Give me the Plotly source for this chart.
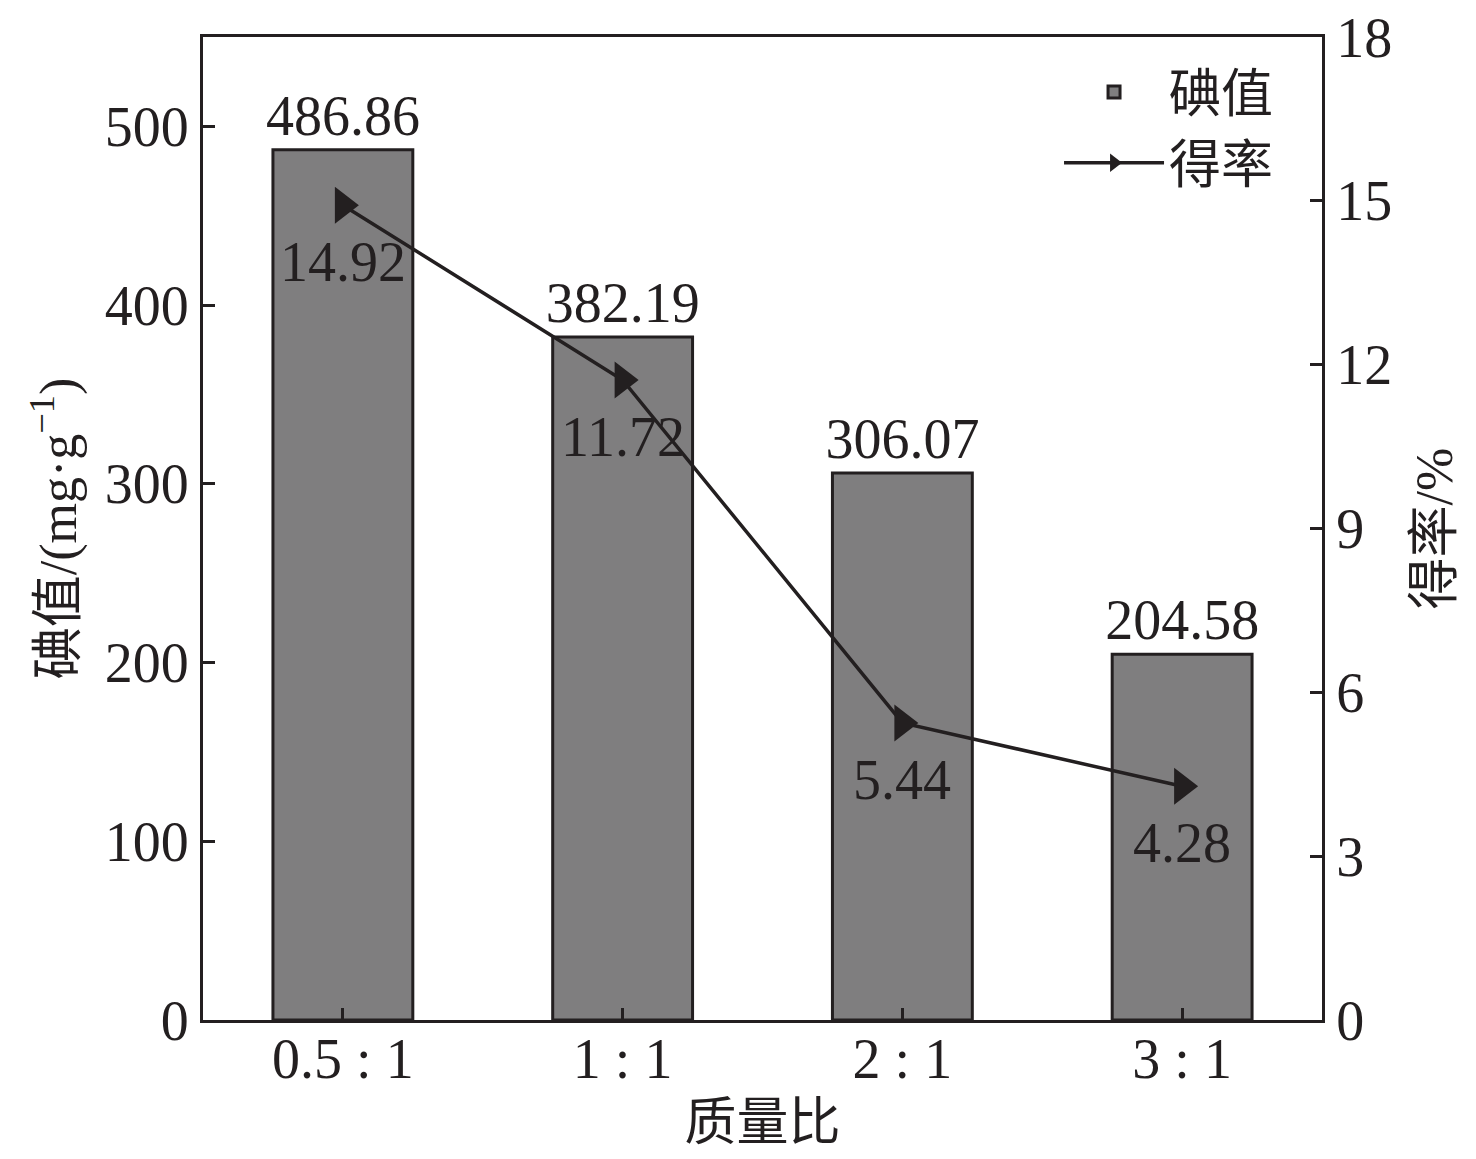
import plotly.graph_objects as go

# mass ratio categories and measured values
ratios = ["0.5 : 1", "1 : 1", "2 : 1", "3 : 1"]
iodine = [486.86, 382.19, 306.07, 204.58]
yield_pct = [14.92, 11.72, 5.44, 4.28]

ink = "#231f20"
font_fam = "Liberation Serif, Noto Sans CJK SC"

fig = go.Figure()
fig.add_trace(go.Bar(x=ratios, y=iodine, name="碘值", width=0.5,
                     marker=dict(color="#7f7e7f", line=dict(color=ink, width=3)),
                     text=[f"{v:.2f}" for v in iodine], textposition="outside",
                     constraintext="none",
                     textfont=dict(size=56, color=ink), cliponaxis=False))
fig.add_trace(go.Scatter(x=ratios, y=yield_pct, name="得率", yaxis="y2",
                         mode="lines+markers",
                         line=dict(color=ink, width=3.5),
                         marker=dict(symbol="triangle-right", size=32, color=ink),
                         cliponaxis=False))

# yield labels sit a little below each marker
for r, v in zip(ratios, yield_pct):
    fig.add_annotation(x=r, y=v, yref="y2", text=f"{v:.2f}", showarrow=False,
                       yshift=-57, font=dict(size=56, color=ink))

# page draws the figure 8px in from the top-left, margins allow for that
fig.update_layout(
    width=1476, height=1159,
    margin=dict(l=195, r=162, t=29, b=147),
    plot_bgcolor="white", paper_bgcolor="white",
    font=dict(family=font_fam, size=56, color=ink),
    showlegend=True,
    legend=dict(x=0.765, y=0.985, xanchor="left", yanchor="top",
                bgcolor="rgba(0,0,0,0)", font=dict(size=52), itemwidth=100,
                itemsizing="trace", tracegroupgap=0),
    xaxis=dict(showline=True, linecolor=ink, linewidth=3, mirror=True,
               ticks="inside", ticklen=12, tickwidth=3, tickcolor=ink,
               range=[-0.5, 3.5], automargin=False, ticklabelstandoff=-12,
               title=dict(text="质量比", standoff=15, font=dict(size=52))),
    yaxis=dict(range=[0, 550], dtick=100, showline=True, linecolor=ink, linewidth=3,
               ticks="inside", ticklen=12, tickwidth=3, tickcolor=ink,
               showgrid=False, zeroline=False, automargin=False,
               ticklabeloverflow="allow",
               title=dict(text="碘值/(mg·g<sup>−1</sup>)", standoff=12, font=dict(size=52))),
    yaxis2=dict(range=[0, 18], dtick=3, overlaying="y", side="right",
                showline=True, linecolor=ink, linewidth=3,
                ticks="inside", ticklen=12, tickwidth=3, tickcolor=ink,
                showgrid=False, zeroline=False, automargin=False,
                ticklabeloverflow="allow",
                title=dict(text="得率/%", standoff=25, font=dict(size=52))),
)

fig.write_html("out.html")
